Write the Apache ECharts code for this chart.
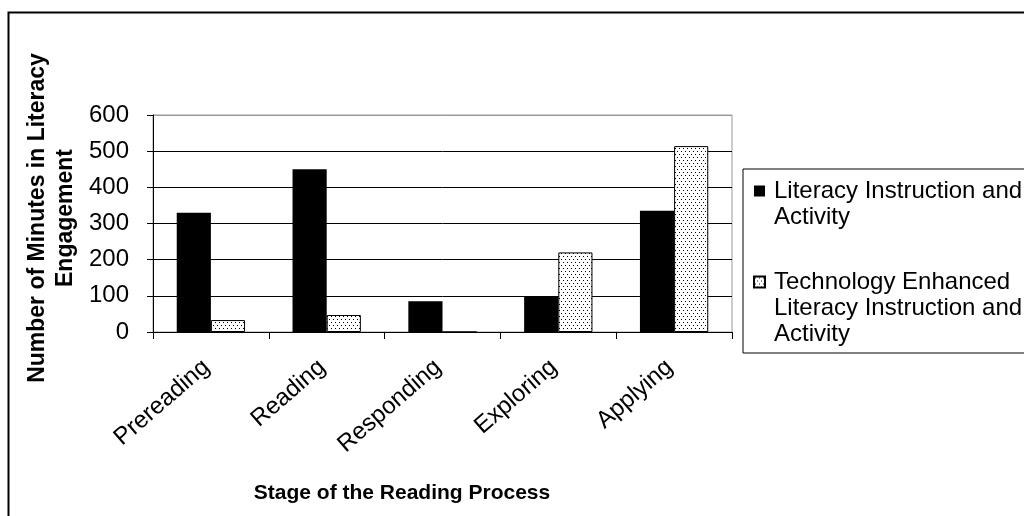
<!DOCTYPE html>
<html>
<head>
<meta charset="utf-8">
<script src="https://cdn.jsdelivr.net/npm/echarts@6/dist/echarts.min.js"></script>
<style>
html,body{margin:0;padding:0;background:#fff;}
#chart{width:1024px;height:516px;}
</style>
</head>
<body>
<div id="chart"></div>
<script>
var categories = ['Prereading', 'Reading', 'Responding', 'Exploring', 'Applying'];
var literacyValues = [330, 450, 85, 98, 335];
var techValues = [33, 47, 0, 220, 514];
var seriesNames = ['Literacy Instruction and Activity', 'Technology Enhanced Literacy Instruction and Activity'];
var legendLabels = ['\nLiteracy Instruction and\nActivity', '\n\nTechnology Enhanced\nLiteracy Instruction and\nActivity'];
var yTicks = [0, 100, 200, 300, 400, 500, 600];

var FONT = "'Liberation Sans', Arial, sans-serif";

function makeDots() {
  var c = document.createElement('canvas');
  c.width = 4; c.height = 6;
  var g = c.getContext('2d');
  g.fillStyle = '#fff';
  g.fillRect(0, 0, 4, 6);
  g.fillStyle = '#000';
  g.fillRect(1, 1, 1, 1);
  g.fillRect(3, 4, 1, 1);
  return c;
}
var dotPattern = { image: makeDots(), repeat: 'repeat' };

var chart = echarts.init(document.getElementById('chart'), null, { renderer: 'canvas' });
chart.setOption({
  backgroundColor: '#fff',
  animation: false,
  grid: {
    left: 153, right: 292, top: 115, bottom: 184,
    show: true, borderColor: '#999', borderWidth: 1
  },
  legend: {
    orient: 'vertical',
    left: 743, top: 169,
    padding: [-17, 10, 6, 10],
    itemGap: -13,
    itemWidth: 11, itemHeight: 11,
    icon: 'rect',
    borderColor: '#000', borderWidth: 1,
    backgroundColor: '#fff',
    data: seriesNames,
    formatter: function (name) { return legendLabels[seriesNames.indexOf(name)]; },
    textStyle: { fontFamily: FONT, fontSize: 24, lineHeight: 26, color: '#000', padding: [0, 0, 0, 4] }
  },
  xAxis: {
    type: 'category',
    data: categories,
    axisLine: { lineStyle: { color: '#000', width: 1 } },
    axisTick: { show: true, length: 7, lineStyle: { color: '#000' } },
    axisLabel: { rotate: 41, margin: 28, padding: [0, 6, 0, 0], fontFamily: FONT, fontSize: 24, color: '#000', interval: 0 }
  },
  yAxis: {
    type: 'value',
    min: yTicks[0], max: yTicks[yTicks.length - 1], interval: yTicks[1] - yTicks[0],
    axisLine: { show: true, lineStyle: { color: '#000', width: 1 } },
    axisTick: { show: true, length: 6, lineStyle: { color: '#000' } },
    axisLabel: { margin: 24, fontFamily: FONT, fontSize: 24, color: '#000' },
    splitLine: { show: true, lineStyle: { color: ['#000', '#000', '#000', '#000', '#000', '#000', '#999'], width: 1 } }
  },
  series: [
    {
      name: seriesNames[0], type: 'bar', data: literacyValues,
      barGap: '0%', barCategoryGap: '41%',
      itemStyle: { color: '#000' }
    },
    {
      name: seriesNames[1], type: 'bar', data: techValues,
      barGap: '0%', barCategoryGap: '41%',
      itemStyle: { color: dotPattern, borderColor: '#000', borderWidth: 1 }
    }
  ],
  graphic: [
    {
      type: 'rect', silent: true, z: 100,
      shape: { x: 8.5, y: 12.5, width: 1100, height: 600 },
      style: { fill: null, stroke: '#000', lineWidth: 2 }
    },
    {
      type: 'text', silent: true,
      x: 52, y: 218, rotation: Math.PI / 2,
      style: {
        text: 'Number of Minutes in Literacy\nEngagement',
        font: "bold 23px " + FONT, lineHeight: 28,
        align: 'center', verticalAlign: 'middle', fill: '#000'
      }
    },
    {
      type: 'text', silent: true,
      x: 402, y: 493,
      style: {
        text: 'Stage of the Reading Process',
        font: "bold 21px " + FONT,
        align: 'center', verticalAlign: 'middle', fill: '#000'
      }
    }
  ]
});
</script>
</body>
</html>
